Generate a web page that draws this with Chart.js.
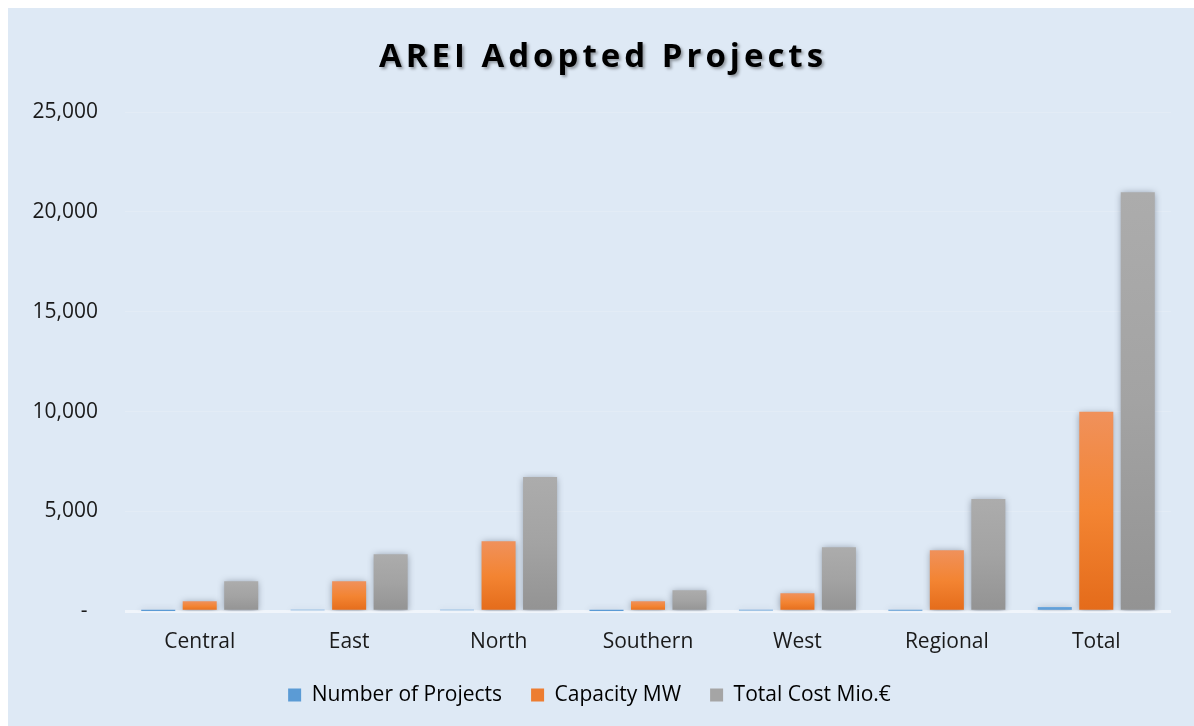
<!DOCTYPE html>
<html>
<head>
<meta charset="utf-8">
<script src="https://cdn.jsdelivr.net/npm/chart.js@4.4.1/dist/chart.umd.min.js"></script>
<style>
  html, body { margin: 0; padding: 0; background: #ffffff; }
  #wrap { position: absolute; left: 8px; top: 8px; width: 1186px; height: 718px; }
  #title {
    position: absolute; left: 8px; top: 35px; width: 1186px;
    text-align: center; font: bold 33px 'Open Sans', sans-serif; line-height: 40px;
    letter-spacing: 4px; padding-left: 4px; box-sizing: border-box;
    color: #000; text-shadow: 2px 2px 3px rgba(0, 0, 0, 0.35);
    pointer-events: none;
  }
</style>
</head>
<body>
<div id="wrap"><canvas id="areiChart"></canvas></div>
<div id="title">AREI Adopted Projects</div>
<script>
// chart data
const regions = ['Central', 'East', 'North', 'Southern', 'West', 'Regional', 'Total'];
const numberOfProjects = [20, 50, 50, 15, 45, 30, 210];
const capacityMW = [500, 1500, 3510, 500, 900, 3060, 9990];
const totalCostMio = [1500, 2860, 6730, 1050, 3210, 5620, 20980];
const yTicks = [0, 5000, 10000, 15000, 20000, 25000];

// vertical gradient per bar, light at the top, darker at the base
function barGradient(top, mid, bottom) {
  return (ctx) => {
    const chart = ctx.chart;
    const y = chart.scales.y;
    if (!y || !chart.chartArea || ctx.raw == null) return mid;
    const y0 = y.getPixelForValue(ctx.raw);
    const y1 = y.getPixelForValue(0);
    if (!isFinite(y0) || Math.abs(y1 - y0) < 1) return mid;
    const g = chart.ctx.createLinearGradient(0, y0, 0, y1);
    g.addColorStop(0, top);
    g.addColorStop(0.5, mid);
    g.addColorStop(1, bottom);
    return g;
  };
}

// soft shadow around the bars
const shadowPlugin = {
  id: 'shadows',
  beforeDatasetsDraw(chart) {
    const c = chart.ctx;
    c.save();
    c.shadowColor = 'rgba(40, 50, 70, 0.45)';
    c.shadowBlur = 7;
    c.shadowOffsetX = 0;
    c.shadowOffsetY = 1;
  },
  afterDatasetsDraw(chart) {
    chart.ctx.restore();
  }
};

const canvasBg = {
  id: 'canvasBg',
  beforeDraw(chart) {
    const c = chart.ctx;
    c.save();
    c.fillStyle = '#dee9f5';
    c.fillRect(0, 0, chart.width, chart.height);
    c.restore();
  }
};

// keep wide gaps between legend items but a shorter legend box
const legendTweak = {
  id: 'legendTweak',
  beforeLayout(chart) {
    const lg = chart.legend;
    if (!lg || lg._tweaked) return;
    lg._tweaked = true;
    const fit = lg.fit;
    lg.fit = function () {
      fit.call(this);
      this.height -= 20;
    };
    const draw = lg.draw;
    lg.draw = function () {
      const top = this.top;
      this.top = top - 18;
      draw.call(this);
      this.top = top;
    };
  },
};

const ctx = document.getElementById('areiChart').getContext('2d');
new Chart(ctx, {
  type: 'bar',
  data: {
    labels: regions,
    datasets: [
      {
        label: 'Number of Projects',
        data: numberOfProjects,
        backgroundColor: barGradient('#6fa9de', '#5b9bd5', '#4a88c7'),
        categoryPercentage: 0.833,
        barPercentage: 0.82,
      },
      {
        label: 'Capacity MW',
        data: capacityMW,
        backgroundColor: barGradient('#f0915b', '#f38432', '#e46b1a'),
        categoryPercentage: 0.833,
        barPercentage: 0.82,
      },
      {
        label: 'Total Cost Mio.€',
        data: totalCostMio,
        backgroundColor: barGradient('#acacac', '#a3a3a3', '#939393'),
        categoryPercentage: 0.833,
        barPercentage: 0.82,
      },
    ],
  },
  options: {
    responsive: true,
    maintainAspectRatio: false,
    animation: false,
    layout: {
      padding: { left: 0, right: 23, top: 104, bottom: 12.5 },
    },
    plugins: {
      legend: {
        position: 'bottom',
        labels: {
          color: '#1a1a1a',
          font: { family: 'Open Sans', size: 21 },
          boxWidth: 13,
          boxHeight: 13,
          padding: 29,
          generateLabels(chart) {
            const fills = ['#5b9bd5', '#ed7d31', '#a5a5a5'];
            return chart.data.datasets.map((ds, i) => ({
              text: ds.label,
              fillStyle: fills[i],
              strokeStyle: fills[i],
              lineWidth: 0,
              hidden: false,
              datasetIndex: i,
            }));
          },
        },
      },
      tooltip: { enabled: false },
    },
    scales: {
      x: {
        grid: { display: false, drawTicks: false },
        border: { display: false },
        ticks: {
          color: '#1a1a1a',
          font: { family: 'Open Sans', size: 21 },
          padding: 18.5,
        },
      },
      y: {
        min: 0,
        max: 25000,
        afterFit(scale) {
          scale.width = 117;
        },
        afterBuildTicks(scale) {
          scale.ticks = yTicks.map((v) => ({ value: v }));
        },
        border: { display: false },
        grid: {
          drawTicks: false,
          color: (c) => (c.tick && c.tick.value === 0 ? 'rgba(255,255,255,0.55)' : 'rgba(255,255,255,0.15)'),
          lineWidth: (c) => (c.tick && c.tick.value === 0 ? 3 : 1),
        },
        ticks: {
          color: '#1a1a1a',
          font: { family: 'Open Sans', size: 21 },
          padding: 27,
          // accounting style: zero shown as a dash, set in from the edge
          callback: (value) => (value === 0 ? '-\u2002' : Number(value).toLocaleString('en-US')),
        },
      },
    },
  },
  plugins: [canvasBg, shadowPlugin, legendTweak],
});
</script>
</body>
</html>
